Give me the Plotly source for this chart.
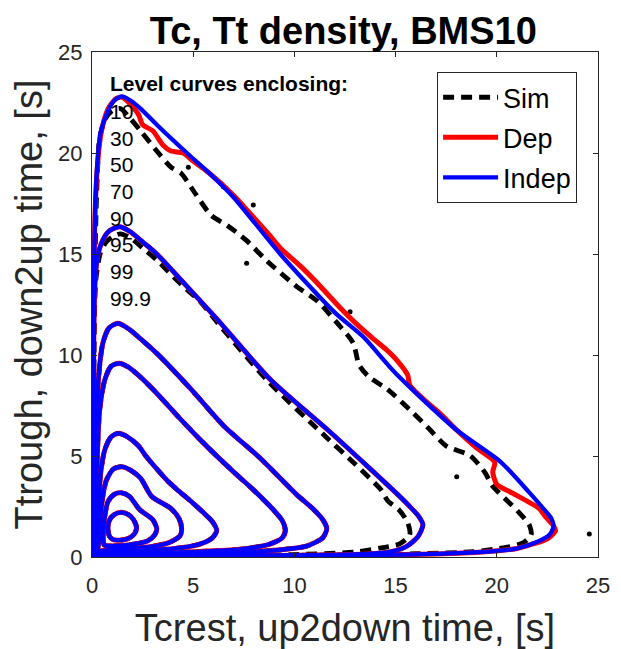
import plotly.graph_objects as go

# level curves enclosing (percent)
level_labels = ["10", "30", "50", "70", "90", "95", "99", "99.9"]

# Indep level curves, (Tc, Tt) points
indep_10 = [(1.45, 2.21), (1.1, 2.1), (0.85, 1.8), (0.79, 1.45), (0.85, 1.05), (1.05, 0.86), (1.45, 0.84),
            (1.8, 0.92), (2.1, 1.15), (2.2, 1.45), (2.05, 1.85), (1.8, 2.1), (1.45, 2.21)]
indep_30 = [(0.6, 0.6), (0.55, 1.0), (0.6, 1.8), (0.79, 2.74), (1.1, 3.1), (1.45, 3.18), (1.85, 3.0),
            (2.35, 2.35), (3.0, 1.85), (3.2, 1.4), (3.1, 1.1), (2.74, 0.79), (1.8, 0.6), (1.0, 0.55), (0.6, 0.6)]
indep_50 = [(0.32, 0.32), (0.34, 0.8), (0.38, 1.2), (0.46, 2.5), (0.71, 3.8), (1.05, 4.35), (1.45, 4.47),
            (1.9, 4.3), (2.4, 3.9), (2.95, 3.0), (3.9, 2.4), (4.3, 1.9), (4.43, 1.4), (4.35, 1.05),
            (3.8, 0.71), (2.5, 0.46), (1.2, 0.38), (0.8, 0.34), (0.32, 0.32)]
indep_70 = [(0.2, 0.2), (0.22, 1.0), (0.3, 2.0), (0.41, 4.0), (0.63, 5.3), (0.95, 5.95), (1.29, 6.12),
            (1.75, 5.95), (2.3, 5.5), (2.66, 5.0), (3.34, 4.2), (3.75, 3.75), (4.2, 3.34), (5.0, 2.66),
            (5.5, 2.2), (5.95, 1.75), (6.16, 1.3), (5.95, 0.95), (5.3, 0.63), (4.0, 0.41), (2.0, 0.3),
            (1.0, 0.22), (0.2, 0.2)]
indep_90 = [(0.12, 0.12), (0.13, 1.0), (0.16, 2.5), (0.25, 4.8), (0.38, 7.3), (0.63, 8.76), (0.95, 9.45),
            (1.34, 9.59), (1.8, 9.4), (2.4, 8.9), (3.3, 8.0), (4.3, 6.9), (5.55, 5.6), (6.9, 4.3),
            (8.0, 3.3), (8.9, 2.4), (9.4, 1.8), (9.55, 1.3), (9.4, 0.95), (8.76, 0.63), (7.3, 0.38),
            (4.8, 0.25), (2.5, 0.16), (1.0, 0.13), (0.12, 0.12)]
indep_95 = [(0.07, 0.07), (0.08, 1.0), (0.12, 3.0), (0.17, 5.0), (0.21, 6.1), (0.3, 8.6), (0.54, 10.6),
            (0.85, 11.35), (1.28, 11.57), (1.8, 11.3), (2.4, 10.8), (3.2, 10.08), (4.9, 8.3), (6.5, 6.5),
            (8.3, 4.9), (10.1, 3.1), (10.9, 2.4), (11.4, 1.85), (11.6, 1.4), (11.4, 0.95), (10.6, 0.54),
            (8.6, 0.3), (6.1, 0.21), (5.0, 0.17), (3.0, 0.12), (1.0, 0.08), (0.07, 0.07)]
indep_99 = [(0.03, 0.03), (0.04, 2.0), (0.06, 5.0), (0.08, 9.0), (0.1, 12.0), (0.15, 13.6), (0.25, 14.7),
            (0.45, 15.5), (0.8, 16.1), (1.35, 16.35), (1.9, 16.1), (2.5, 15.6), (3.2, 15.0), (4.5, 13.6),
            (6.2, 11.75), (8.8, 8.8), (11.75, 6.2), (13.6, 4.5), (15.1, 3.1), (15.7, 2.5), (16.15, 2.0),
            (16.35, 1.6), (16.1, 1.0), (15.5, 0.5), (14.7, 0.25), (13.6, 0.15), (12.0, 0.1), (9.0, 0.08),
            (5.0, 0.06), (2.0, 0.04), (0.03, 0.03)]
indep_999 = [(0.03, 0.03), (0.04, 2.0), (0.05, 6.0), (0.07, 10.0), (0.1, 14.0), (0.15, 17.0), (0.25, 19.3),
             (0.42, 21.0), (0.8, 22.1), (1.1, 22.6), (1.47, 22.8), (1.9, 22.6), (2.4, 22.2), (3.2, 21.4),
             (4.8, 19.9), (5.8, 19.0), (7.0, 17.8), (9.3, 15.0), (12.0, 12.1), (13.4, 10.9), (15.0, 9.1),
             (18.0, 6.3), (20.2, 4.7), (21.6, 3.2), (22.3, 2.4), (22.7, 1.9), (22.8, 1.5), (22.6, 1.1),
             (22.1, 0.8), (21.0, 0.42), (19.3, 0.25), (17.0, 0.15), (14.0, 0.1), (10.0, 0.07), (6.0, 0.05),
             (2.0, 0.04), (0.03, 0.03)]

# Dep outer curve (the inner ones sit on the Indep ones)
dep_999 = [(0.03, 0.03), (0.04, 2.0), (0.05, 6.0), (0.07, 10.0), (0.1, 14.0), (0.15, 17.0), (0.28, 19.5),
           (0.45, 21.0), (0.8, 22.2), (1.2, 22.7), (1.5, 22.75), (1.9, 22.4), (2.3, 21.9), (2.5, 21.4),
           (3.0, 21.1), (3.5, 20.4), (3.9, 20.1), (4.5, 20.0), (5.0, 19.6), (5.8, 19.0), (7.0, 17.9),
           (8.0, 16.8), (8.8, 15.9), (9.3, 15.3), (10.3, 14.4), (11.0, 13.7), (12.2, 12.4), (13.0, 11.6),
           (13.9, 10.8), (14.5, 10.3), (15.1, 9.7), (15.6, 9.0), (15.7, 8.5), (16.5, 7.7), (17.2, 7.1),
           (18.0, 6.3), (19.0, 5.4), (19.9, 4.7), (19.8, 4.2), (20.0, 3.6), (20.8, 3.15), (21.6, 2.7),
           (22.1, 2.4), (22.4, 2.0), (22.8, 1.55), (22.9, 1.3), (22.5, 0.9), (21.8, 0.65), (21.0, 0.42),
           (19.3, 0.25), (17.0, 0.15), (14.0, 0.1), (10.0, 0.07), (6.0, 0.05), (2.0, 0.04), (0.03, 0.03)]

# Sim outer curves (dashed), inner ones sit on the Indep ones
sim_99 = [(0.05, 0.05), (0.06, 3.0), (0.08, 8.0), (0.12, 12.0), (0.2, 13.8), (0.4, 15.0), (0.7, 15.6),
          (1.1, 15.9), (1.4, 16.0), (1.9, 15.8), (2.5, 15.3), (3.2, 14.7), (4.5, 13.4), (5.3, 12.7),
          (6.2, 11.6), (8.7, 8.7), (11.5, 6.0), (13.0, 4.6), (14.3, 3.3), (14.6, 2.8), (15.2, 2.3),
          (15.6, 1.7), (15.7, 1.1), (15.2, 0.65), (14.3, 0.45), (13.0, 0.25), (10.0, 0.12), (5.0, 0.07),
          (0.05, 0.05)]
sim_999 = [(0.05, 0.05), (0.06, 3.0), (0.08, 8.0), (0.12, 13.0), (0.2, 17.0), (0.28, 19.3), (0.35, 20.5),
           (0.6, 21.6), (1.0, 22.1), (1.4, 22.2), (1.9, 21.7), (2.4, 21.1), (3.2, 20.1), (3.9, 19.3),
           (4.4, 19.0), (5.1, 18.0), (5.9, 16.9), (6.7, 16.4), (7.6, 15.7), (8.6, 14.7), (10.1, 13.4),
           (11.1, 12.7), (12.1, 11.6), (12.9, 10.6), (13.2, 9.5), (13.7, 8.9), (14.6, 8.3), (15.9, 7.1),
           (16.7, 6.3), (17.5, 5.5), (18.7, 5.0), (19.4, 4.2), (19.8, 3.5), (20.5, 2.8), (21.1, 2.2),
           (21.6, 1.6), (21.7, 1.1), (21.3, 0.7), (20.3, 0.45), (18.8, 0.26), (16.0, 0.16), (12.0, 0.1),
           (8.0, 0.07), (3.0, 0.05), (0.05, 0.05)]
sim_dots_x = [4.76, 6.49, 7.97, 7.64, 12.75, 18.02, 24.57]
sim_dots_y = [19.3, 18.33, 17.43, 14.54, 12.14, 3.97, 1.14]

indep_curves = [indep_10, indep_30, indep_50, indep_70, indep_90, indep_95, indep_99, indep_999]
dep_curves = [indep_10, indep_30, indep_50, indep_70, indep_90, indep_95, indep_99, dep_999]
sim_curves = [indep_10, indep_30, indep_50, indep_70, indep_90, indep_95, sim_99, sim_999]


def xy(pts):
    return [p[0] for p in pts], [p[1] for p in pts]


fig = go.Figure()

series = [
    ("Sim", sim_curves, dict(color="black", width=4.8, dash="11px,7px")),
    ("Dep", dep_curves, dict(color="red", width=5)),
    ("Indep", indep_curves, dict(color="blue", width=4.3)),
]
for name, curves, line in series:
    for i, pts in enumerate(curves):
        x, y = xy(pts)
        fig.add_trace(go.Scatter(x=x, y=y, mode="lines", name=name, legendgroup=name,
                                 showlegend=(i == len(curves) - 1),
                                 line=dict(shape="spline", smoothing=0.7, **line)))
    if name == "Sim":
        fig.add_trace(go.Scatter(x=sim_dots_x, y=sim_dots_y, mode="markers", showlegend=False,
                                 legendgroup=name, marker=dict(color="black", size=5)))

fig.add_annotation(x=0.79, y=23.45, xanchor="left", yanchor="middle", showarrow=False,
                   text="<b>Level curves enclosing:</b>", font=dict(size=21, color="black"))
for i, lab in enumerate(level_labels):
    fig.add_annotation(x=0.79, y=22.05 - 1.32 * i, xanchor="left", yanchor="middle", showarrow=False,
                       text=lab, font=dict(size=21, color="black"))

axis = dict(range=[0, 25], tickvals=[0, 5, 10, 15, 20, 25], showline=True, mirror="ticks",
            linecolor="#262626", linewidth=1, ticks="inside", ticklen=5, tickcolor="#262626",
            showgrid=False, zeroline=False, automargin=False,
            tickfont=dict(size=22, color="#262626"))

fig.update_layout(
    width=613, height=641,
    margin=dict(l=84, r=23, t=44, b=92),
    paper_bgcolor="white", plot_bgcolor="white",
    font=dict(family="Liberation Sans, Arial, sans-serif"),
    title=dict(text="<b>Tc, Tt density, BMS10</b>", x=0.547, xanchor="center",
               y=0.965, yanchor="middle", font=dict(size=38, color="black")),
    xaxis=dict(title=dict(text="Tcrest, up2down time, [s]", font=dict(size=38, color="#262626"),
                          standoff=16), ticklabelstandoff=9, **axis),
    yaxis=dict(title=dict(text="Ttrough, down2up time, [s]", font=dict(size=38, color="#262626"),
                          standoff=14), ticklabelstandoff=4, **axis),
    legend=dict(x=0.682, y=0.96, xanchor="left", yanchor="top", bgcolor="white",
                bordercolor="#262626", borderwidth=1, font=dict(size=27, color="black"),
                traceorder="grouped", tracegroupgap=2, itemwidth=55),
    showlegend=True,
)

fig.write_html("out.html")
